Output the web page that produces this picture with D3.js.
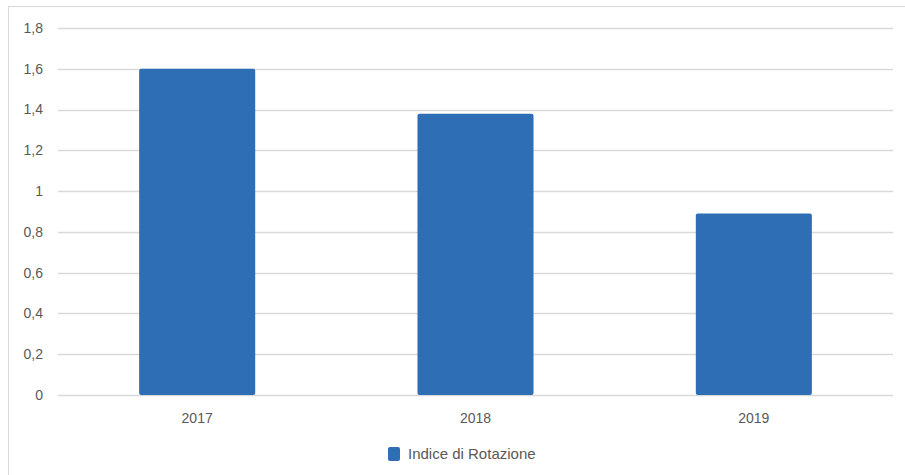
<!DOCTYPE html>
<html><head><meta charset="utf-8">
<script src="https://cdn.jsdelivr.net/npm/d3@7"></script>
<style>body{margin:0;background:#fff;} text{font-family:"Liberation Sans",Arial,sans-serif;}</style>
</head><body><svg id="c" width="905" height="475"></svg>
<script>
const categories = ["2017", "2018", "2019"];
const values = [1.6, 1.38, 0.89];
const seriesName = "Indice di Rotazione";
const yTicks = [0, 0.2, 0.4, 0.6, 0.8, 1, 1.2, 1.4, 1.6, 1.8];

const svg = d3.select("#c");
svg.append("rect").attr("x", 8.5).attr("y", 6.5).attr("width", 905).attr("height", 480)
  .attr("fill", "#fff").attr("stroke", "#d9d9d9");

const x = d3.scaleBand().domain(categories).range([58, 893]).paddingInner(0.583).paddingOuter(0.2915);
const y = d3.scaleLinear().domain([0, 1.8]).range([395, 28]);

const fmt = d => String(d).replace(".", ",");
const g = svg.append("g");
g.selectAll("line.grid").data(yTicks).join("line")
  .attr("x1", 58).attr("x2", 893)
  .attr("y1", d => Math.round(y(d)) + 0.5).attr("y2", d => Math.round(y(d)) + 0.5)
  .attr("stroke", "#d9d9d9").attr("stroke-width", 1.3);

g.selectAll("text.yl").data(yTicks).join("text")
  .attr("x", 43).attr("y", d => y(d)).attr("dy", "0.35em")
  .attr("text-anchor", "end").attr("fill", "#595959").attr("font-size", 14)
  .text(fmt);

g.selectAll("rect.bar").data(values).join("rect")
  .attr("x", (d, i) => x(categories[i])).attr("width", x.bandwidth())
  .attr("y", d => y(d)).attr("height", d => y(0) - y(d))
  .attr("rx", 2).attr("fill", "#2e6eb5");

g.selectAll("text.xl").data(categories).join("text")
  .attr("x", d => x(d) + x.bandwidth() / 2).attr("y", 418).attr("dy", "0.35em")
  .attr("text-anchor", "middle").attr("fill", "#595959").attr("font-size", 14)
  .text(d => d);

const lg = svg.append("g");
lg.append("rect").attr("x", 388).attr("y", 447).attr("width", 12).attr("height", 14).attr("rx", 2).attr("fill", "#2e6eb5");
lg.append("text").attr("x", 408).attr("y", 454).attr("dy", "0.35em").attr("fill", "#595959").attr("font-size", 15).text(seriesName);
</script></body></html>
